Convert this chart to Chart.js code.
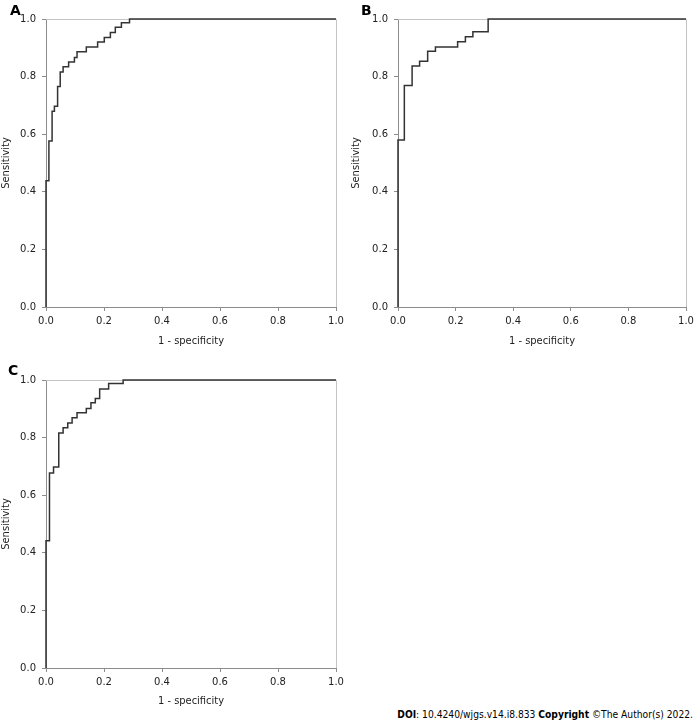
<!DOCTYPE html>
<html>
<head>
<meta charset="utf-8">
<script src="https://cdn.jsdelivr.net/npm/chart.js@4/dist/chart.umd.min.js"></script>
<style>
  body { margin: 0; background: #fff; width: 695px; height: 727px; position: relative; overflow: hidden; }
  .panel { position: absolute; width: 360px; height: 350px; }
  .letter { position: absolute; font: bold 14px "DejaVu Sans", Verdana, sans-serif; color: #000; }
  #footer { position: absolute; right: 2px; top: 709px; font: 10.2px "DejaVu Sans Condensed", sans-serif; color: #000; white-space: nowrap; }
</style>
</head>
<body>
<div class="panel" style="left:0;top:0"><canvas id="chartA"></canvas></div>
<div class="panel" style="left:350px;top:0"><canvas id="chartB"></canvas></div>
<div class="panel" style="left:0;top:360px"><canvas id="chartC"></canvas></div>
<div class="letter" style="left:10px;top:2px">A</div>
<div class="letter" style="left:361px;top:2px">B</div>
<div class="letter" style="left:8px;top:362px">C</div>
<div id="footer"><b>DOI</b>: 10.4240/wjgs.v14.i8.833 <b>Copyright</b> ©The Author(s) 2022.</div>
<script>
// ROC curves: 1 - specificity (x) and sensitivity (y)
const fprA = [0, 0, 0.010, 0.021, 0.029, 0.040, 0.049, 0.059, 0.078, 0.098, 0.107, 0.139, 0.178, 0.201, 0.222, 0.239, 0.260, 0.288, 1.0];
const tprA = [0, 0.438, 0.576, 0.680, 0.697, 0.766, 0.816, 0.834, 0.851, 0.866, 0.886, 0.903, 0.920, 0.936, 0.953, 0.971, 0.987, 1.0, 1.0];

const fprB = [0, 0, 0.022, 0.049, 0.075, 0.103, 0.130, 0.207, 0.234, 0.260, 0.313, 1.0];
const tprB = [0, 0.580, 0.769, 0.837, 0.853, 0.888, 0.903, 0.921, 0.938, 0.956, 1.0, 1.0];

const fprC = [0, 0, 0.012, 0.026, 0.044, 0.059, 0.075, 0.090, 0.107, 0.139, 0.155, 0.170, 0.185, 0.216, 0.266, 1.0];
const tprC = [0, 0.442, 0.677, 0.698, 0.816, 0.834, 0.851, 0.869, 0.886, 0.901, 0.921, 0.936, 0.969, 0.988, 1.0, 1.0];

const axisTicks = [0, 0.2, 0.4, 0.6, 0.8, 1.0];
const xTitle = "1 - specificity";
const yTitle = "Sensitivity";

const axisGray = "#8c8c8c";
const frameGray = "#c4c4c4";

// top and right edges of the plot box
const framePlugin = {
  id: "frame",
  beforeDatasetsDraw(chart) {
    const { ctx, chartArea: a } = chart;
    ctx.save();
    ctx.strokeStyle = frameGray;
    ctx.lineWidth = 1;
    ctx.beginPath();
    ctx.moveTo(a.left, a.top + 0.5);
    ctx.lineTo(a.right + 0.5, a.top + 0.5);
    ctx.lineTo(a.right + 0.5, a.bottom);
    ctx.stroke();
    ctx.restore();
  },
};

function makeChart(id, fpr, tpr, box) {
  const points = fpr.map((x, i) => ({ x: x, y: tpr[i] }));
  const tickFont = { family: "DejaVu Sans", size: 10 };
  const titleFont = { family: "DejaVu Sans Condensed", size: 11 };
  return new Chart(document.getElementById(id), {
    type: "line",
    data: {
      datasets: [
        {
          data: points,
          stepped: "before",
          borderColor: "#333333",
          borderWidth: 1.5,
          pointRadius: 0,
          fill: false,
          clip: 4,
        },
      ],
    },
    options: {
      responsive: true,
      maintainAspectRatio: false,
      animation: false,
      events: [],
      layout: { padding: { top: box.top, right: box.right, left: 0, bottom: 0 } },
      plugins: { legend: { display: false }, tooltip: { enabled: false } },
      scales: {
        x: {
          type: "linear",
          min: 0,
          max: 1,
          afterBuildTicks: (s) => { s.ticks = axisTicks.map((v) => ({ value: v })); },
          afterFit: (s) => { s.height = box.bottom; },
          ticks: { color: "#222", font: tickFont, padding: 4, maxRotation: 0, callback: (v) => v.toFixed(1) },
          grid: { drawOnChartArea: false, drawTicks: true, tickLength: 4, color: axisGray },
          border: { color: axisGray, width: 1 },
          title: { display: true, text: xTitle, color: "#222", font: titleFont, padding: { top: 4, bottom: 2 } },
        },
        y: {
          type: "linear",
          min: 0,
          max: 1,
          afterBuildTicks: (s) => { s.ticks = axisTicks.map((v) => ({ value: v })); },
          afterFit: (s) => { s.width = box.left; },
          ticks: { color: "#222", font: tickFont, padding: 6, callback: (v) => v.toFixed(1) },
          grid: { drawOnChartArea: false, drawTicks: true, tickLength: 4, color: axisGray },
          border: { color: axisGray, width: 1 },
          title: { display: true, text: yTitle, color: "#222", font: titleFont, padding: { top: 0, bottom: 0 } },
        },
      },
    },
    plugins: [framePlugin],
  });
}

const charts = [
  makeChart("chartA", fprA, tprA, { left: 46, right: 24, top: 19, bottom: 43 }),
  makeChart("chartB", fprB, tprB, { left: 48, right: 24, top: 19, bottom: 43 }),
  makeChart("chartC", fprC, tprC, { left: 46, right: 24, top: 20, bottom: 42 }),
];
</script>
</body>
</html>
